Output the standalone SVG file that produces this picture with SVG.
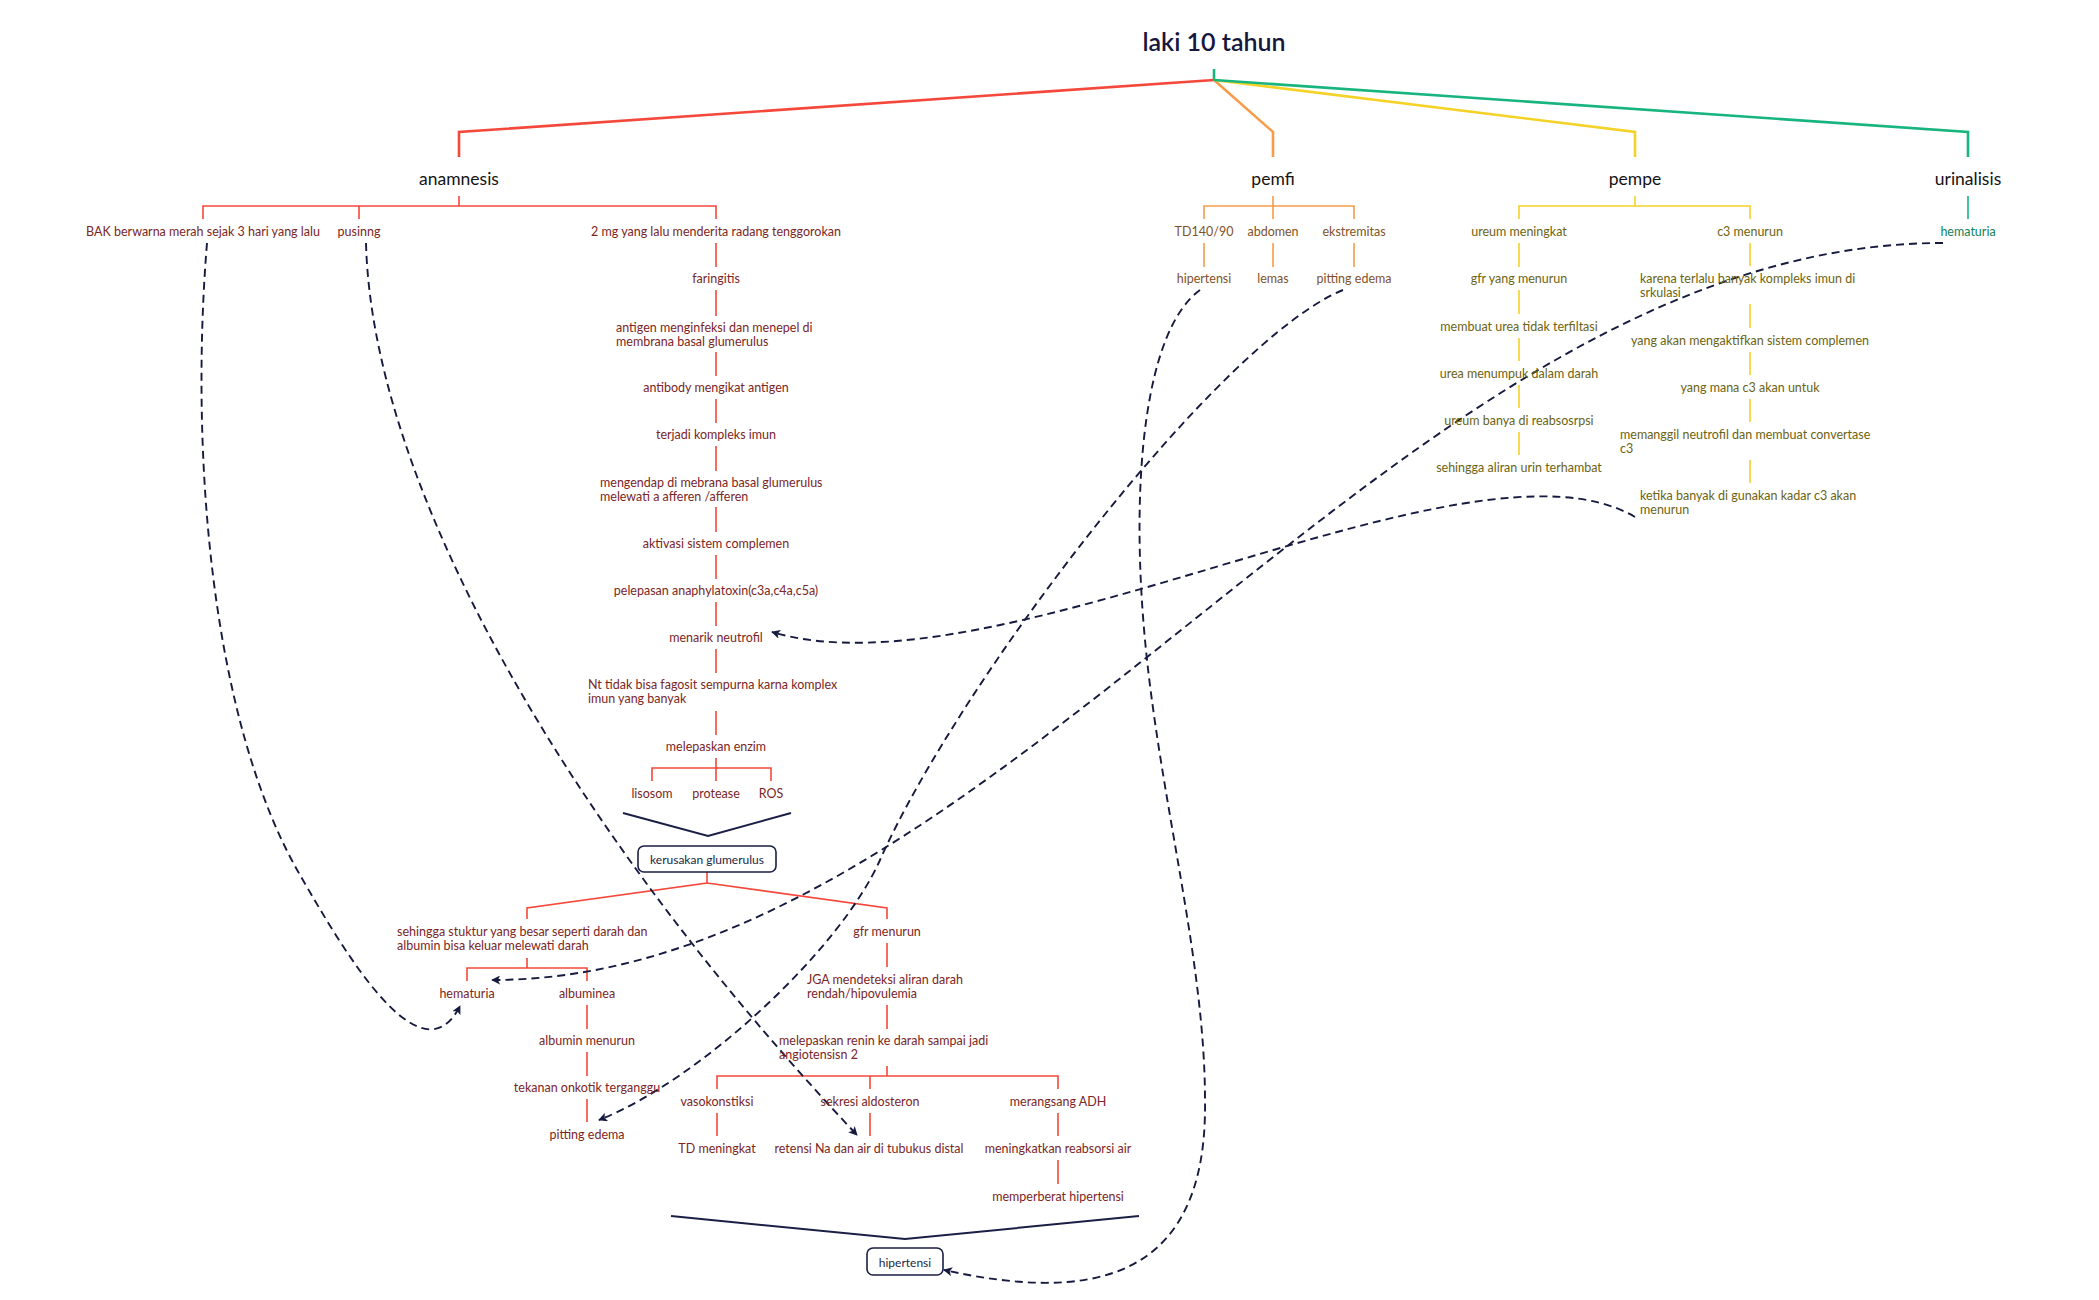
<svg xmlns="http://www.w3.org/2000/svg" width="2099" height="1300" viewBox="0 0 2099 1300">
<style>
text{font-family:Lato,"Open Sans","Liberation Sans",sans-serif;dominant-baseline:central}
.t{font-size:12.5px;text-anchor:middle}
.l{font-size:12.5px;text-anchor:start}
.ra{fill:#7a2626}.or{fill:#80532a}.ye{fill:#6c6312}.gr{fill:#11825c}
.h{font-size:17.5px;fill:#141414;text-anchor:middle}
.title{font-size:25px;font-weight:600;fill:#17173d;text-anchor:middle}
.nv{fill:#1b1f45;font-size:12px;text-anchor:middle}
.R{stroke:#f5483b}.O{stroke:#f79c4a}.Y{stroke:#f4d227}.G{stroke:#17b57d}
.m{fill:none;stroke-width:2.6}
.c{fill:none;stroke-width:1.6}
.br{fill:none;stroke:#1b1f45;stroke-width:2}
.box{fill:#fff;stroke:#1b1f45;stroke-width:1.6}
.d{fill:none;stroke:#161a3e;stroke-width:1.9;stroke-dasharray:8 5}
</style>
<defs>
<marker id="ah" viewBox="0 0 10 10" refX="9" refY="5" markerWidth="9" markerHeight="9" markerUnits="userSpaceOnUse" orient="auto">
<path d="M0,0 L10,5 L0,10 L2.5,5 Z" fill="#161a3e"/>
</marker>
</defs>
<rect width="2099" height="1300" fill="#fff"/>

<g id="connectors">
<path class="m G" d="M1214,69 V80"/>
<path class="m R" d="M1214,80 L459,132 V157"/>
<path class="m O" d="M1214,80 L1273,132 V157"/>
<path class="m Y" d="M1214,80 L1635,132 V157"/>
<path class="m G" d="M1214,80 L1968,132 V157"/>
<path class="c R" d="M459,196 V206 M203,219 V206 H716 V219 M359,206 V219"/>
<path class="c R" d="M716,243 V267 M716,290 V316 M716,352 V376 M716,399 V423 M716,446 V471 M716,507 V532 M716,555 V579 M716,602 V626 M716,649 V673 M716,711 V735"/>
<path class="c R" d="M716,758 V768 M652,781 V768 H771 V781 M716,768 V781"/>
<path class="c R" d="M707,872 V883 L527,908 V919 M707,883 L887,908 V919"/>
<path class="c R" d="M527,958 V968 M467,981 V968 H587 V981"/>
<path class="c R" d="M587,1005 V1029 M587,1052 V1076 M587,1099 V1122"/>
<path class="c R" d="M887,943 V967 M887,1005 V1029 M887,1066 V1076 M717,1089 V1076 H1058 V1089 M870,1076 V1089"/>
<path class="c R" d="M717,1113 V1136 M870,1113 V1136 M1058,1113 V1136 M1058,1160 V1184"/>
<path class="c O" d="M1273,196 V206 M1204,219 V206 H1354 V219 M1273,206 V219 M1204,243 V267 M1273,243 V267 M1354,243 V267"/>
<path class="c Y" d="M1635,196 V206 M1519,219 V206 H1750 V219"/>
<path class="c Y" d="M1519,243 V267 M1519,290 V314 M1519,338 V361 M1519,385 V408 M1519,432 V455"/>
<path class="c Y" d="M1750,243 V266 M1750,304 V328 M1750,352 V375 M1750,399 V422 M1750,460 V483"/>
<path class="c G" d="M1968,196 V219"/>
<path class="br" d="M623,813 L708,836 L791,813"/>
<path class="br" d="M671,1216 L905,1239 L1139,1216"/>
<path class="d" marker-end="url(#ah)" d="M207,243 C190,450 210,720 300,875 C340,944 420,1085 460,1006"/>
<path class="d" marker-end="url(#ah)" d="M366,243 C372,480 560,820 857,1135"/>
<path class="d" marker-end="url(#ah)" d="M1943,243 C1400,243 1000,980 492,980"/>
<path class="d" marker-end="url(#ah)" d="M1200,290 C1145,330 1130,480 1145,640 C1160,800 1205,960 1205,1100 C1208,1290 1080,1300 944,1270"/>
<path class="d" marker-end="url(#ah)" d="M1343,290 C1220,340 960,680 880,860 C840,950 700,1080 599,1120"/>
<path class="d" marker-end="url(#ah)" d="M1635,517 C1470,420 1000,700 772,632"/>
</g>

<g id="root"><text class="title" x="1214" y="41">laki 10 tahun</text></g>

<g id="anamnesis"><text class="h" x="459" y="178">anamnesis</text></g>
<g id="pemfi"><text class="h" x="1273" y="178">pemfi</text></g>
<g id="pempe"><text class="h" x="1635" y="178">pempe</text></g>
<g id="urinalisis"><text class="h" x="1968" y="178">urinalisis</text></g>

<g id="bak"><text class="t ra" x="203" y="231">BAK berwarna merah sejak 3 hari yang lalu</text></g>
<g id="pusinng"><text class="t ra" x="359" y="231">pusinng</text></g>
<g id="radang"><text class="t ra" x="716" y="231">2 mg yang lalu menderita radang tenggorokan</text></g>
<g id="faringitis"><text class="t ra" x="716" y="278">faringitis</text></g>
<g id="antigen"><text class="l ra" x="616" y="327">antigen menginfeksi dan menepel di</text><text class="l ra" x="616" y="341">membrana basal glumerulus</text></g>
<g id="antibody"><text class="t ra" x="716" y="387">antibody mengikat antigen</text></g>
<g id="kompleks"><text class="t ra" x="716" y="434">terjadi kompleks imun</text></g>
<g id="mengendap"><text class="l ra" x="600" y="482">mengendap di mebrana basal glumerulus</text><text class="l ra" x="600" y="496">melewati a afferen /afferen</text></g>
<g id="aktivasi"><text class="t ra" x="716" y="543">aktivasi sistem complemen</text></g>
<g id="pelepasan"><text class="t ra" x="716" y="590">pelepasan anaphylatoxin(c3a,c4a,c5a)</text></g>
<g id="menarik"><text class="t ra" x="716" y="637">menarik neutrofil</text></g>
<g id="nt"><text class="l ra" x="588" y="684">Nt tidak bisa fagosit sempurna karna komplex</text><text class="l ra" x="588" y="698">imun yang banyak</text></g>
<g id="enzim"><text class="t ra" x="716" y="746">melepaskan enzim</text></g>
<g id="lisosom"><text class="t ra" x="652" y="793">lisosom</text></g>
<g id="protease"><text class="t ra" x="716" y="793">protease</text></g>
<g id="ros"><text class="t ra" x="771" y="793">ROS</text></g>

<g id="kerusakan"><rect class="box" x="638" y="846" width="138" height="26" rx="6"/><text class="nv" x="707" y="859">kerusakan glumerulus</text></g>

<g id="stuktur"><text class="l ra" x="397" y="931">sehingga stuktur yang besar seperti darah dan</text><text class="l ra" x="397" y="945">albumin bisa keluar melewati darah</text></g>
<g id="hematuria2"><text class="t ra" x="467" y="993">hematuria</text></g>
<g id="albuminea"><text class="t ra" x="587" y="993">albuminea</text></g>
<g id="albmenurun"><text class="t ra" x="587" y="1040">albumin menurun</text></g>
<g id="onkotik"><text class="t ra" x="587" y="1087">tekanan onkotik terganggu</text></g>
<g id="pitting2"><text class="t ra" x="587" y="1134">pitting edema</text></g>

<g id="gfr"><text class="t ra" x="887" y="931">gfr menurun</text></g>
<g id="jga"><text class="l ra" x="807" y="979">JGA mendeteksi aliran darah</text><text class="l ra" x="807" y="993">rendah/hipovulemia</text></g>
<g id="renin"><text class="l ra" x="779" y="1040">melepaskan renin ke darah sampai jadi</text><text class="l ra" x="779" y="1054">angiotensisn 2</text></g>
<g id="vaso"><text class="t ra" x="717" y="1101">vasokonstiksi</text></g>
<g id="aldo"><text class="t ra" x="870" y="1101">sekresi aldosteron</text></g>
<g id="adh"><text class="t ra" x="1058" y="1101">merangsang ADH</text></g>
<g id="td"><text class="t ra" x="717" y="1148">TD meningkat</text></g>
<g id="retensi"><text class="t ra" x="869" y="1148">retensi Na dan air di tubukus distal</text></g>
<g id="reabsorsi"><text class="t ra" x="1058" y="1148">meningkatkan reabsorsi air</text></g>
<g id="memperberat"><text class="t ra" x="1058" y="1196">memperberat hipertensi</text></g>

<g id="hipertensi-box"><rect class="box" x="867" y="1248" width="76" height="27" rx="6"/><text class="nv" x="905" y="1262">hipertensi</text></g>

<g id="td140"><text class="t or" x="1204" y="231">TD140/90</text></g>
<g id="abdomen"><text class="t or" x="1273" y="231">abdomen</text></g>
<g id="ekstremitas"><text class="t or" x="1354" y="231">ekstremitas</text></g>
<g id="hipertensi1"><text class="t or" x="1204" y="278">hipertensi</text></g>
<g id="lemas"><text class="t or" x="1273" y="278">lemas</text></g>
<g id="pitting1"><text class="t or" x="1354" y="278">pitting edema</text></g>

<g id="ureum"><text class="t ye" x="1519" y="231">ureum meningkat</text></g>
<g id="gfr2"><text class="t ye" x="1519" y="278">gfr yang menurun</text></g>
<g id="urea1"><text class="t ye" x="1519" y="326">membuat urea tidak terfiltasi</text></g>
<g id="urea2"><text class="t ye" x="1519" y="373">urea menumpuk dalam darah</text></g>
<g id="urea3"><text class="t ye" x="1519" y="420">ureum banya di reabsosrpsi</text></g>
<g id="urin"><text class="t ye" x="1519" y="467">sehingga aliran urin terhambat</text></g>
<g id="c3"><text class="t ye" x="1750" y="231">c3 menurun</text></g>
<g id="karena"><text class="l ye" x="1640" y="278">karena terlalu banyak kompleks imun di</text><text class="l ye" x="1640" y="292">srkulasi</text></g>
<g id="mengaktifkan"><text class="t ye" x="1750" y="340">yang akan mengaktifkan sistem complemen</text></g>
<g id="yangmana"><text class="t ye" x="1750" y="387">yang mana c3 akan untuk</text></g>
<g id="memanggil"><text class="l ye" x="1620" y="434">memanggil neutrofil dan membuat convertase</text><text class="l ye" x="1620" y="448">c3</text></g>
<g id="ketika"><text class="l ye" x="1640" y="495">ketika banyak di gunakan kadar c3 akan</text><text class="l ye" x="1640" y="509">menurun</text></g>

<g id="hematuria1"><text class="t gr" x="1968" y="231">hematuria</text></g>
</svg>
